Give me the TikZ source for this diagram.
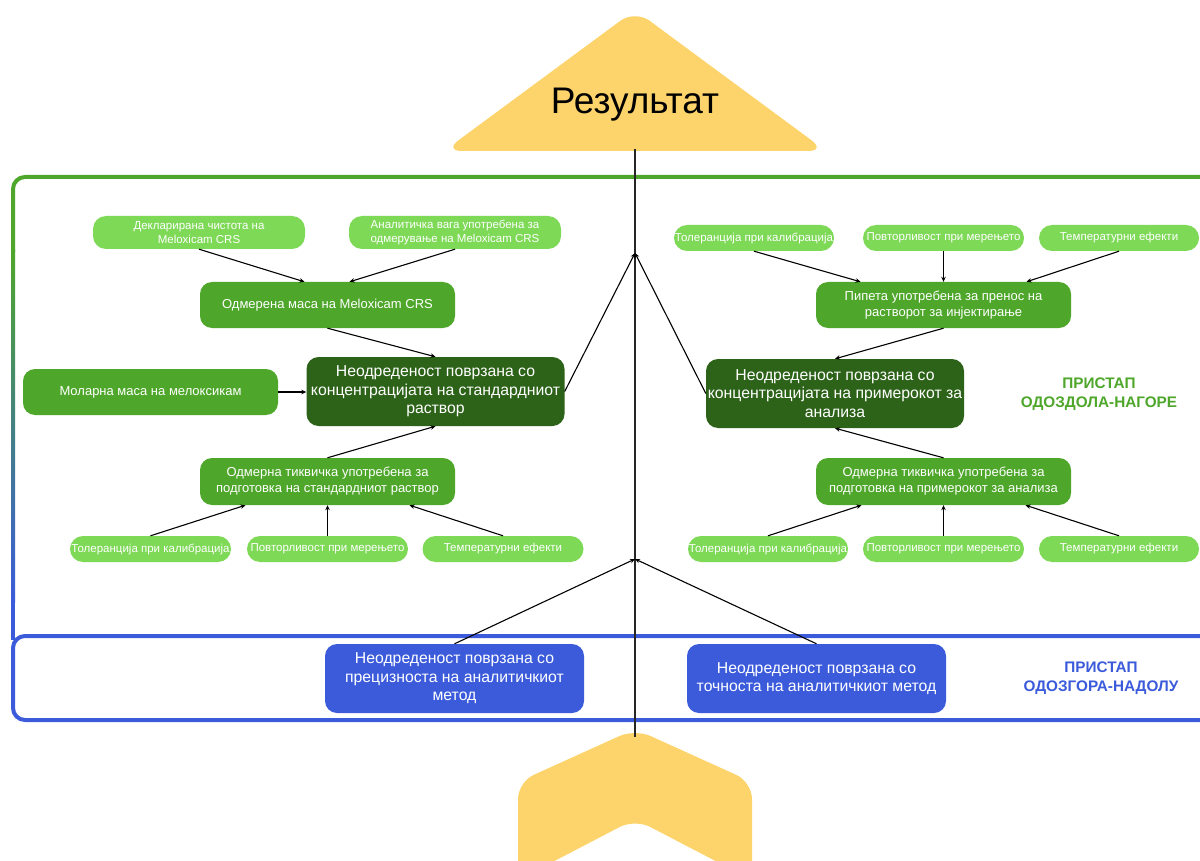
\documentclass[tikz,border=0pt]{standalone}
\usepackage{fontspec}
\setmainfont{Liberation Sans}
\usetikzlibrary{arrows.meta,calc}
\definecolor{lgreen}{HTML}{7ED957}
\definecolor{mgreen}{HTML}{4EA72A}
\definecolor{dgreen}{HTML}{2D6319}
\definecolor{mblue}{HTML}{3B5BDB}
\definecolor{ylw}{HTML}{FDD46B}
\begin{document}
\begin{tikzpicture}[x=1pt,y=-1pt,
  base/.style={rectangle, text=white, align=center, inner sep=0pt},
  sbox/.style={base, fill=lgreen, rounded corners=13pt, minimum height=26pt, font=\fontsize{11.5}{13.3}\selectfont},
  mbox/.style={base, fill=mgreen, rounded corners=12pt, minimum width=255pt, minimum height=46pt, font=\fontsize{13}{16}\selectfont},
  dbox/.style={base, fill=dgreen, rounded corners=12pt, minimum width=258pt, minimum height=69pt, font=\fontsize{15.8}{18.6}\selectfont},
  bbox/.style={base, fill=mblue, rounded corners=12pt, minimum width=259pt, minimum height=69pt, font=\fontsize{15.8}{18.6}\selectfont},
  arr/.style={-{Stealth[length=5pt,width=4.5pt]}, line width=1.1pt, black},
  lab/.style={align=center, font=\bfseries\fontsize{15.3}{19}\selectfont},
  frame/.style={line width=4pt}
  ]
\useasboundingbox (0,0) rectangle (1200,861);
\clip (0,0) rectangle (1200,861);
\fill[white] (0,0) rectangle (1200,861);

% frames
\draw[frame, mgreen, rounded corners=12pt] (13,252) -- (13,177) -- (1215,177);
\shade[top color=mgreen, bottom color=mblue] (11,250) rectangle (15,602);
\draw[frame, mblue] (13,600) -- (13,640);
\draw[frame, mblue, rounded corners=12pt] (1215,636) -- (13,636) -- (13,720) -- (1215,720);

% result shapes
\fill[ylw, rounded corners=18pt] (444,151) -- (635,10) -- (826,151) -- cycle;
\fill[ylw, rounded corners=17pt] (518,880) -- (518,782) -- (635,729) -- (752,782) -- (752,880) -- (635,819) -- cycle;
\node[font=\fontsize{37}{40}\selectfont, text=black] (res) at (635,105) {Результат};
\coordinate (resbot) at (635,149);
\coordinate (chevtop) at (635,737);
\draw[line width=1.1pt, black!85] (resbot) -- (chevtop);
\coordinate (cu) at (635,253);
\coordinate (cd) at (635,559);

% left cluster
\node[sbox, minimum width=212pt, minimum height=33pt] (d1) at (199,232.5) {Декларирана чистота на\\Meloxicam CRS};
\node[sbox, minimum width=212pt, minimum height=33pt] (d2) at (455,232.5) {Аналитичка вага употребена за\\одмерување на Meloxicam CRS};
\node[mbox] (m1) at (327.5,305) {Одмерена маса на Meloxicam CRS};
\node[mbox] (ml) at (150.5,392) {Моларна маса на мелоксикам};
\node[dbox] (dk1) at (435.5,391.5) {Неодреденост поврзана со\\концентрацијата на стандардниот\\раствор};
\node[mbox, minimum height=47pt] (t1) at (327.5,481.5) {Одмерна тиквичка употребена за\\подготовка на стандардниот раствор};
\node[sbox, minimum width=161pt] (s1) at (150.5,549) {Толеранција при калибрација};
\node[sbox, minimum width=161pt] (s2) at (327.5,549) {Повторливост при мерењето};
\node[sbox, minimum width=161pt] (s3) at (503,549) {Температурни ефекти};

% right cluster
\node[sbox, minimum width=160pt] (r1) at (754,238) {Толеранција при калибрација};
\node[sbox, minimum width=161pt] (r2) at (943.5,238) {Повторливост при мерењето};
\node[sbox, minimum width=160pt] (r3) at (1119,238) {Температурни ефекти};
\node[mbox] (p1) at (943.5,305) {Пипета употребена за пренос на\\растворот за инјектирање};
\node[dbox] (dk2) at (835,393.5) {Неодреденост поврзана со\\концентрацијата на примерокот за\\анализа};
\node[mbox, minimum height=47pt] (t2) at (943.5,481.5) {Одмерна тиквичка употребена за\\подготовка на примерокот за анализа};
\node[sbox, minimum width=160pt] (q1) at (768,549) {Толеранција при калибрација};
\node[sbox, minimum width=161pt] (q2) at (943.5,549) {Повторливост при мерењето};
\node[sbox, minimum width=160pt] (q3) at (1119,549) {Температурни ефекти};

% blue boxes
\node[bbox] (b1) at (454.5,678.5) {Неодреденост поврзана со\\прецизноста на аналитичкиот\\метод};
\node[bbox] (b2) at (816.5,678.5) {Неодреденост поврзана со\\точноста на аналитичкиот метод};

% labels
\node[lab, text=mgreen] (lab1) at (1099,394) {ПРИСТАП\\ОДОЗДОЛА-НАГОРЕ};
\node[lab, text=mblue] (lab2) at (1101,678) {ПРИСТАП\\ОДОЗГОРА-НАДОЛУ};

% arrows left
\draw[arr] (d1.south) -- ([xshift=-23pt]m1.north);
\draw[arr] (d2.south) -- ([xshift=22pt]m1.north);
\draw[arr] (m1.south) -- (dk1.north);
\draw[arr] (ml.east) -- (ml.east -| dk1.west);
\draw[arr] (t1.north) -- (dk1.south);
\draw[arr] (s1.north) -- ([xshift=-82pt]t1.south);
\draw[arr] (s2.north) -- (t1.south);
\draw[arr] (s3.north) -- ([xshift=82pt]t1.south);
% arrows right
\draw[arr] (r1.south) -- ([xshift=-83pt]p1.north);
\draw[arr] (r2.south) -- (p1.north);
\draw[arr] (r3.south) -- ([xshift=83pt]p1.north);
\draw[arr] (p1.south) -- (dk2.north);
\draw[arr] (t2.north) -- (dk2.south);
\draw[arr] (q1.north) -- ([xshift=-82pt]t2.south);
\draw[arr] (q2.north) -- (t2.south);
\draw[arr] (q3.north) -- ([xshift=82pt]t2.south);
% to centre line
\draw[arr] (dk1.east) -- (cu);
\draw[arr] (dk2.west) -- (cu);
\draw[arr] (b1.north) -- (cd);
\draw[arr] (b2.north) -- (cd);
\end{tikzpicture}
\end{document}
